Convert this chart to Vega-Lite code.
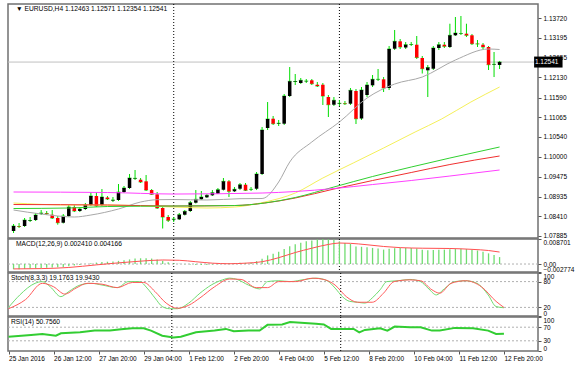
{
"$schema": "https://vega.github.io/schema/vega-lite/v6.json",
"background": "white",
"padding": {"left": 3, "top": 2, "right": 0, "bottom": 0},
"spacing": 1,
"bounds": "flush",
"resolve": {"scale": {"x": "independent", "y": "independent", "color": "independent"}},
"config": {
  "view": {"stroke": "#707070", "strokeWidth": 1.5},
  "axis": {"labelFont": "Liberation Sans", "labelFontSize": 6.5, "labelColor": "#000000", "tickColor": "#555555", "tickSize": 3, "domain": false, "grid": false, "title": null, "labelPadding": 2, "labelOverlap": false, "labelSeparation": 0, "tickCount": 50},
  "text": {"font": "Liberation Sans", "fontSize": 6.7, "color": "#000000"}
},
"datasets": {
  "seps": [{"i": 29}, {"i": 59}],
  "bars": [
{"i":0,"o":1.08018,"h":1.08206,"l":1.07965,"c":1.08152,"m":-0.0018},
{"i":1,"o":1.08152,"h":1.08232,"l":1.08098,"c":1.08139,"m":-0.0018},
{"i":2,"o":1.08152,"h":1.08366,"l":1.08125,"c":1.08312,"m":-0.0017},
{"i":3,"o":1.08286,"h":1.08393,"l":1.08259,"c":1.08299,"m":-0.0016},
{"i":4,"o":1.08312,"h":1.08500,"l":1.08286,"c":1.08446,"m":-0.0015},
{"i":5,"o":1.08486,"h":1.08580,"l":1.08446,"c":1.08500,"m":-0.0014},
{"i":6,"o":1.08500,"h":1.08553,"l":1.08446,"c":1.08486,"m":-0.0013},
{"i":7,"o":1.08454,"h":1.08580,"l":1.08339,"c":1.08366,"m":-0.0012},
{"i":8,"o":1.08366,"h":1.08419,"l":1.08187,"c":1.08240,"m":-0.0011},
{"i":9,"o":1.08240,"h":1.08473,"l":1.08219,"c":1.08419,"m":-0.0010},
{"i":10,"o":1.08419,"h":1.08714,"l":1.08393,"c":1.08660,"m":-0.0008},
{"i":11,"o":1.08660,"h":1.08714,"l":1.08526,"c":1.08553,"m":-0.0005},
{"i":12,"o":1.08553,"h":1.08660,"l":1.08526,"c":1.08607,"m":-0.0003},
{"i":13,"o":1.08607,"h":1.08768,"l":1.08580,"c":1.08714,"m":0.00005},
{"i":14,"o":1.08714,"h":1.09062,"l":1.08687,"c":1.08955,"m":0.0003},
{"i":15,"o":1.08955,"h":1.09062,"l":1.08660,"c":1.08687,"m":0.0005},
{"i":16,"o":1.08714,"h":1.09142,"l":1.08687,"c":1.08928,"m":0.0007},
{"i":17,"o":1.08915,"h":1.08955,"l":1.08848,"c":1.08875,"m":0.0008},
{"i":18,"o":1.08834,"h":1.08928,"l":1.08794,"c":1.08848,"m":0.0009},
{"i":19,"o":1.08848,"h":1.09276,"l":1.08821,"c":1.09062,"m":0.0011},
{"i":20,"o":1.09062,"h":1.09223,"l":1.09035,"c":1.09169,"m":0.0013},
{"i":21,"o":1.09169,"h":1.09544,"l":1.09142,"c":1.09437,"m":0.0016},
{"i":22,"o":1.09418,"h":1.09651,"l":1.09383,"c":1.09429,"m":0.0019},
{"i":23,"o":1.09391,"h":1.09437,"l":1.09303,"c":1.09330,"m":0.0020},
{"i":24,"o":1.09348,"h":1.09517,"l":1.09089,"c":1.09115,"m":0.0020},
{"i":25,"o":1.09115,"h":1.09142,"l":1.08982,"c":1.09000,"m":0.0019},
{"i":26,"o":1.09000,"h":1.09062,"l":1.08607,"c":1.08634,"m":0.0016},
{"i":27,"o":1.08634,"h":1.08660,"l":1.08085,"c":1.08393,"m":0.0011},
{"i":28,"o":1.08393,"h":1.08446,"l":1.08259,"c":1.08304,"m":0.0006},
{"i":29,"o":1.08326,"h":1.08393,"l":1.08259,"c":1.08339,"m":0.0003},
{"i":30,"o":1.08331,"h":1.08500,"l":1.08312,"c":1.08454,"m":0.0001},
{"i":31,"o":1.08454,"h":1.08580,"l":1.08433,"c":1.08545,"m":-0.0001},
{"i":32,"o":1.08553,"h":1.08821,"l":1.08526,"c":1.08776,"m":-0.0002},
{"i":33,"o":1.08776,"h":1.09115,"l":1.08754,"c":1.08867,"m":-0.0003},
{"i":34,"o":1.08867,"h":1.09089,"l":1.08848,"c":1.08928,"m":-0.0003},
{"i":35,"o":1.08920,"h":1.09008,"l":1.08901,"c":1.08974,"m":-0.0003},
{"i":36,"o":1.08974,"h":1.09115,"l":1.08955,"c":1.09043,"m":-0.0002},
{"i":37,"o":1.09016,"h":1.09169,"l":1.09008,"c":1.09123,"m":-0.0001},
{"i":38,"o":1.09123,"h":1.09437,"l":1.09102,"c":1.09348,"m":0.0002},
{"i":39,"o":1.09348,"h":1.09383,"l":1.08928,"c":1.09081,"m":0.0003},
{"i":40,"o":1.09081,"h":1.09196,"l":1.09062,"c":1.09134,"m":0.0003},
{"i":41,"o":1.09150,"h":1.09303,"l":1.09115,"c":1.09257,"m":0.0004},
{"i":42,"o":1.09257,"h":1.09303,"l":1.09089,"c":1.09107,"m":0.0004},
{"i":43,"o":1.09129,"h":1.09196,"l":1.09089,"c":1.09134,"m":0.0004},
{"i":44,"o":1.09150,"h":1.09597,"l":1.09115,"c":1.09544,"m":0.0010},
{"i":45,"o":1.09544,"h":1.10802,"l":1.09517,"c":1.10722,"m":0.0018},
{"i":46,"o":1.10775,"h":1.11471,"l":1.10722,"c":1.11016,"m":0.0030},
{"i":47,"o":1.11024,"h":1.11097,"l":1.10856,"c":1.10891,"m":0.0036},
{"i":48,"o":1.10891,"h":1.10990,"l":1.10829,"c":1.10904,"m":0.0043},
{"i":49,"o":1.10891,"h":1.11685,"l":1.10856,"c":1.11632,"m":0.0052},
{"i":50,"o":1.11632,"h":1.12408,"l":1.11605,"c":1.12026,"m":0.0062},
{"i":51,"o":1.12007,"h":1.12221,"l":1.11926,"c":1.12020,"m":0.0069},
{"i":52,"o":1.11980,"h":1.12114,"l":1.11953,"c":1.12052,"m":0.0074},
{"i":53,"o":1.12026,"h":1.12087,"l":1.11980,"c":1.12034,"m":0.0079},
{"i":54,"o":1.12052,"h":1.12087,"l":1.11926,"c":1.11961,"m":0.0082},
{"i":55,"o":1.11934,"h":1.12007,"l":1.11873,"c":1.11900,"m":0.0085},
{"i":56,"o":1.11934,"h":1.11980,"l":1.11391,"c":1.11632,"m":0.0087},
{"i":57,"o":1.11605,"h":1.11659,"l":1.11070,"c":1.11399,"m":0.0086},
{"i":58,"o":1.11399,"h":1.11605,"l":1.11364,"c":1.11517,"m":0.0084},
{"i":59,"o":1.11426,"h":1.11525,"l":1.11364,"c":1.11437,"m":0.0079},
{"i":60,"o":1.11437,"h":1.11498,"l":1.11391,"c":1.11426,"m":0.0073},
{"i":61,"o":1.11426,"h":1.11846,"l":1.11391,"c":1.11784,"m":0.0070},
{"i":62,"o":1.11766,"h":1.11819,"l":1.10882,"c":1.11024,"m":0.0061},
{"i":63,"o":1.11030,"h":1.11873,"l":1.10990,"c":1.11792,"m":0.0060},
{"i":64,"o":1.11659,"h":1.12007,"l":1.11605,"c":1.11926,"m":0.0058},
{"i":65,"o":1.11918,"h":1.12194,"l":1.11873,"c":1.12079,"m":0.0056},
{"i":66,"o":1.12074,"h":1.12355,"l":1.12034,"c":1.12079,"m":0.0054},
{"i":67,"o":1.12079,"h":1.12140,"l":1.11739,"c":1.11846,"m":0.0050},
{"i":68,"o":1.11846,"h":1.12970,"l":1.11792,"c":1.12890,"m":0.0053},
{"i":69,"o":1.12898,"h":1.13399,"l":1.12863,"c":1.13096,"m":0.0055},
{"i":70,"o":1.13096,"h":1.13158,"l":1.12890,"c":1.12944,"m":0.0056},
{"i":71,"o":1.12930,"h":1.13077,"l":1.12890,"c":1.13005,"m":0.0056},
{"i":72,"o":1.13005,"h":1.13077,"l":1.12970,"c":1.13011,"m":0.0056},
{"i":73,"o":1.13005,"h":1.13238,"l":1.12622,"c":1.12663,"m":0.0054},
{"i":74,"o":1.12649,"h":1.12703,"l":1.12234,"c":1.12363,"m":0.0050},
{"i":75,"o":1.12320,"h":1.12462,"l":1.11605,"c":1.12395,"m":0.0048},
{"i":76,"o":1.12363,"h":1.12970,"l":1.12328,"c":1.12917,"m":0.0049},
{"i":77,"o":1.12917,"h":1.13077,"l":1.12863,"c":1.13005,"m":0.0050},
{"i":78,"o":1.13005,"h":1.13077,"l":1.12917,"c":1.12962,"m":0.0050},
{"i":79,"o":1.12944,"h":1.13567,"l":1.12917,"c":1.13257,"m":0.0051},
{"i":80,"o":1.13257,"h":1.13747,"l":1.13238,"c":1.13318,"m":0.0052},
{"i":81,"o":1.13300,"h":1.13774,"l":1.13265,"c":1.13305,"m":0.0053},
{"i":82,"o":1.13300,"h":1.13567,"l":1.13211,"c":1.13257,"m":0.0052},
{"i":83,"o":1.13257,"h":1.13292,"l":1.12997,"c":1.13032,"m":0.0050},
{"i":84,"o":1.13032,"h":1.13131,"l":1.12944,"c":1.13024,"m":0.0047},
{"i":85,"o":1.13005,"h":1.13051,"l":1.12890,"c":1.12944,"m":0.0043},
{"i":86,"o":1.12944,"h":1.12970,"l":1.12328,"c":1.12470,"m":0.0037},
{"i":87,"o":1.12470,"h":1.12810,"l":1.12140,"c":1.12481,"m":0.0031},
{"i":88,"o":1.12463,"h":1.12571,"l":1.12354,"c":1.12541,"m":0.00241}
  ],
  "ma": [
{"s":"grey","i":0,"p":1.08580},{"s":"grey","i":5,"p":1.08473},{"s":"grey","i":11,"p":1.08393},{"s":"grey","i":14,"p":1.08446},{"s":"grey","i":19,"p":1.08607},{"s":"grey","i":23,"p":1.08794},{"s":"grey","i":26,"p":1.08856},{"s":"grey","i":29,"p":1.08861},{"s":"grey","i":35,"p":1.08848},{"s":"grey","i":41,"p":1.08883},{"s":"grey","i":45,"p":1.08888},{"s":"grey","i":48,"p":1.09330},{"s":"grey","i":50,"p":1.09865},{"s":"grey","i":54,"p":1.10401},{"s":"grey","i":59,"p":1.10936},{"s":"grey","i":64,"p":1.11578},{"s":"grey","i":69,"p":1.11953},{"s":"grey","i":74,"p":1.12140},{"s":"grey","i":80,"p":1.12596},{"s":"grey","i":86,"p":1.12890},{"s":"grey","i":88,"p":1.12877},
{"s":"yellow","i":0,"p":1.08768},{"s":"yellow","i":10,"p":1.08714},{"s":"yellow","i":17,"p":1.08714},{"s":"yellow","i":29,"p":1.08660},{"s":"yellow","i":35,"p":1.08634},{"s":"yellow","i":40,"p":1.08660},{"s":"yellow","i":45.5,"p":1.08794},{"s":"yellow","i":51,"p":1.09035},{"s":"yellow","i":56,"p":1.09437},{"s":"yellow","i":61.5,"p":1.09838},{"s":"yellow","i":67,"p":1.10240},{"s":"yellow","i":72.7,"p":1.10668},{"s":"yellow","i":77.5,"p":1.11016},{"s":"yellow","i":82.8,"p":1.11471},{"s":"yellow","i":88,"p":1.11873},
{"s":"red","i":0,"p":1.08727},{"s":"red","i":17,"p":1.08714},{"s":"red","i":29,"p":1.08687},{"s":"red","i":40,"p":1.08700},{"s":"red","i":45.5,"p":1.08768},{"s":"red","i":51,"p":1.08901},{"s":"red","i":58,"p":1.09142},{"s":"red","i":65,"p":1.09370},{"s":"red","i":72,"p":1.09584},{"s":"red","i":79,"p":1.09798},{"s":"red","i":88,"p":1.10026},
{"s":"green","i":0,"p":1.08620},{"s":"green","i":10,"p":1.08634},{"s":"green","i":17,"p":1.08674},{"s":"green","i":29,"p":1.08687},{"s":"green","i":40,"p":1.08700},{"s":"green","i":45.5,"p":1.08768},{"s":"green","i":51,"p":1.08915},{"s":"green","i":58,"p":1.09196},{"s":"green","i":65,"p":1.09477},{"s":"green","i":72,"p":1.09731},{"s":"green","i":79,"p":1.09972},{"s":"green","i":88,"p":1.10267},
{"s":"magenta","i":0,"p":1.09062},{"s":"magenta","i":17,"p":1.09049},{"s":"magenta","i":29,"p":1.09008},{"s":"magenta","i":45,"p":1.09035},{"s":"magenta","i":51,"p":1.09075},{"s":"magenta","i":58,"p":1.09155},{"s":"magenta","i":65,"p":1.09262},{"s":"magenta","i":72,"p":1.09370},{"s":"magenta","i":79,"p":1.09490},{"s":"magenta","i":88,"p":1.09651}
  ],
  "sig": [
{"i":0,"v":-0.0017},{"i":5,"v":-0.0016},{"i":10,"v":-0.0012},{"i":15,"v":-0.0003},{"i":19,"v":0.0004},{"i":23,"v":0.0010},{"i":27,"v":0.0014},{"i":30,"v":0.0013},{"i":33,"v":0.0008},{"i":36,"v":0.0003},{"i":39,"v":0.0001},{"i":42,"v":0.0003},{"i":45,"v":0.0008},{"i":48,"v":0.0022},{"i":51,"v":0.0040},{"i":54,"v":0.0055},{"i":57,"v":0.0068},{"i":59,"v":0.0073},{"i":61,"v":0.0072},{"i":64,"v":0.0067},{"i":67,"v":0.0061},{"i":70,"v":0.0057},{"i":74,"v":0.0055},{"i":79,"v":0.0054},{"i":83,"v":0.0051},{"i":86,"v":0.0047},{"i":88,"v":0.004166}
  ],
  "stoch": [
{"s":"K","i":0,"v":20},{"s":"K","i":2,"v":49},{"s":"K","i":4.7,"v":76},{"s":"K","i":6,"v":80},{"s":"K","i":7.4,"v":68},{"s":"K","i":9.3,"v":45},{"s":"K","i":10.7,"v":57},{"s":"K","i":12.7,"v":72},{"s":"K","i":14.7,"v":76},{"s":"K","i":16.6,"v":72},{"s":"K","i":19.3,"v":66},{"s":"K","i":21.3,"v":80},{"s":"K","i":23.3,"v":80},{"s":"K","i":24.6,"v":65},{"s":"K","i":26,"v":42},{"s":"K","i":27.3,"v":22},{"s":"K","i":28.6,"v":17},{"s":"K","i":30,"v":17},{"s":"K","i":32,"v":30},{"s":"K","i":34,"v":53},{"s":"K","i":36,"v":72},{"s":"K","i":38,"v":84},{"s":"K","i":39.3,"v":88},{"s":"K","i":40.6,"v":85},{"s":"K","i":42.6,"v":72},{"s":"K","i":44.6,"v":63},{"s":"K","i":46,"v":80},{"s":"K","i":48,"v":82},{"s":"K","i":50,"v":80},{"s":"K","i":52.6,"v":85},{"s":"K","i":54.6,"v":88},{"s":"K","i":56.6,"v":82},{"s":"K","i":58,"v":65},{"s":"K","i":59.3,"v":45},{"s":"K","i":60.6,"v":34},{"s":"K","i":62,"v":32},{"s":"K","i":63.3,"v":30},{"s":"K","i":64.6,"v":42},{"s":"K","i":66,"v":61},{"s":"K","i":67.2,"v":80},{"s":"K","i":69.2,"v":82},{"s":"K","i":71.3,"v":85},{"s":"K","i":73.2,"v":80},{"s":"K","i":74.5,"v":65},{"s":"K","i":76,"v":49},{"s":"K","i":77.2,"v":61},{"s":"K","i":79.3,"v":80},{"s":"K","i":81.2,"v":82},{"s":"K","i":83.2,"v":76},{"s":"K","i":85.2,"v":49},{"s":"K","i":86.6,"v":22},{"s":"K","i":88,"v":19.18},
{"s":"D","i":0,"v":17},{"s":"D","i":3,"v":38},{"s":"D","i":6,"v":76},{"s":"D","i":8,"v":68},{"s":"D","i":10,"v":51},{"s":"D","i":12,"v":65},{"s":"D","i":14,"v":76},{"s":"D","i":16.6,"v":74},{"s":"D","i":19.3,"v":66},{"s":"D","i":22,"v":78},{"s":"D","i":24,"v":78},{"s":"D","i":26,"v":57},{"s":"D","i":28,"v":30},{"s":"D","i":30,"v":18},{"s":"D","i":32,"v":25},{"s":"D","i":34,"v":42},{"s":"D","i":36.6,"v":68},{"s":"D","i":39.3,"v":86},{"s":"D","i":41.3,"v":85},{"s":"D","i":44,"v":66},{"s":"D","i":46,"v":66},{"s":"D","i":48,"v":80},{"s":"D","i":51,"v":80},{"s":"D","i":54,"v":88},{"s":"D","i":56,"v":85},{"s":"D","i":58,"v":72},{"s":"D","i":60,"v":45},{"s":"D","i":62,"v":32},{"s":"D","i":64.6,"v":32},{"s":"D","i":66.6,"v":53},{"s":"D","i":68.5,"v":80},{"s":"D","i":71.3,"v":84},{"s":"D","i":73.2,"v":82},{"s":"D","i":75.2,"v":61},{"s":"D","i":76.6,"v":53},{"s":"D","i":78.6,"v":76},{"s":"D","i":81.2,"v":82},{"s":"D","i":84,"v":68},{"s":"D","i":86.6,"v":34},{"s":"D","i":88,"v":19.94}
  ],
  "rsi": [
{"i":0,"v":42},{"i":4,"v":47},{"i":6,"v":50},{"i":8.4,"v":45},{"i":9.3,"v":52},{"i":12.7,"v":55},{"i":15.3,"v":60},{"i":18,"v":60},{"i":20,"v":64},{"i":22,"v":67},{"i":24,"v":67},{"i":25.3,"v":60},{"i":27.3,"v":45},{"i":29.3,"v":40},{"i":30.6,"v":42},{"i":33.3,"v":55},{"i":36.6,"v":60},{"i":38.6,"v":65},{"i":40,"v":58},{"i":42.6,"v":60},{"i":44.6,"v":60},{"i":46,"v":77},{"i":48.6,"v":78},{"i":50,"v":85},{"i":52.6,"v":82},{"i":54.6,"v":80},{"i":56,"v":78},{"i":57.3,"v":65},{"i":59.3,"v":65},{"i":61.3,"v":65},{"i":62.3,"v":55},{"i":63.3,"v":62},{"i":66,"v":67},{"i":67.3,"v":60},{"i":68.6,"v":72},{"i":71.3,"v":70},{"i":73.2,"v":70},{"i":75.2,"v":60},{"i":76.6,"v":60},{"i":79.3,"v":68},{"i":82.5,"v":67},{"i":85.2,"v":60},{"i":86.6,"v":50},{"i":88,"v":50.76}
  ]
},
"vconcat": [
{
  "width": 530, "height": 234,
  "layer": [
    {"data": {"values": [{"p": 1.12541}]}, "mark": {"type": "rule", "color": "#c0c0c0", "strokeWidth": 1},
     "encoding": {"y": {"field": "p", "type": "quantitative", "scale": {"domain": [1.07831, 1.14095], "nice": false, "zero": false},
       "axis": {"orient": "right", "values": [1.1372, 1.13195, 1.12655, 1.1213, 1.1159, 1.11065, 1.1054, 1.1, 1.09475, 1.08935, 1.0841, 1.07885], "format": ".5f", "labelFlush": false, "labelOverlap": false, "tickCount": 50}}}},
    {"data": {"name": "seps"}, "mark": {"type": "rule", "color": "#000000", "strokeDash": [1, 2], "strokeWidth": 1},
     "encoding": {"x": {"field": "i", "type": "quantitative", "scale": {"domain": [-0.1, 94.05], "nice": false, "zero": false}, "axis": null}}},
    {"data": {"name": "bars"}, "mark": {"type": "rule", "color": "#00dd00", "strokeWidth": 1},
     "encoding": {"x": {"field": "i", "type": "quantitative"}, "y": {"field": "l", "type": "quantitative"}, "y2": {"field": "h"}}},
    {"data": {"name": "bars"}, "mark": {"type": "tick", "orient": "horizontal", "color": "#00dd00", "size": 4, "thickness": 1},
     "encoding": {"x": {"field": "i", "type": "quantitative"}, "y": {"field": "c", "type": "quantitative"}}},
    {"data": {"name": "bars"}, "mark": {"type": "bar", "size": 3.5},
     "encoding": {"x": {"field": "i", "type": "quantitative"}, "y": {"field": "o", "type": "quantitative"}, "y2": {"field": "c"},
       "color": {"condition": {"test": "datum.c >= datum.o", "value": "#000000"}, "value": "#ff0000"}}},
    {"data": {"name": "ma"}, "mark": {"type": "line", "strokeWidth": 1, "interpolate": "monotone"},
     "encoding": {"x": {"field": "i", "type": "quantitative"}, "y": {"field": "p", "type": "quantitative"},
       "color": {"field": "s", "type": "nominal", "legend": null, "scale": {"domain": ["grey", "yellow", "red", "green", "magenta"], "range": ["#a8a8a8", "#f5f05a", "#f03030", "#30d030", "#ff40ff"]}}}},
    {"data": {"values": [{"t": "▼ EURUSD,H4  1.12463 1.12571 1.12354 1.12541"}]}, "mark": {"type": "text", "align": "left", "baseline": "top", "dx": 3, "dy": 2},
     "encoding": {"x": {"datum": -0.1}, "y": {"datum": 1.14095}, "text": {"field": "t"}}},
    {"data": {"values": [{"a": 94.25, "b": 99.4, "y1": 1.12394, "y2": 1.12688}]}, "mark": {"type": "rect", "color": "#000000"},
     "encoding": {"x": {"field": "a", "type": "quantitative"}, "x2": {"field": "b"}, "y": {"field": "y1", "type": "quantitative"}, "y2": {"field": "y2"}}},
    {"data": {"values": [{"a": 94.4, "p": 1.12541, "t": "1.12541"}]}, "mark": {"type": "text", "align": "left", "baseline": "middle", "color": "#ffffff", "fontSize": 6.5},
     "encoding": {"x": {"field": "a", "type": "quantitative"}, "y": {"field": "p", "type": "quantitative"}, "text": {"field": "t"}}}
  ]
},
{
  "width": 530, "height": 33,
  "layer": [
    {"data": {"values": [{"v": 0}]}, "mark": {"type": "rule", "color": "#b0b0b0", "strokeDash": [2, 2], "strokeWidth": 1},
     "encoding": {"y": {"field": "v", "type": "quantitative", "scale": {"domain": [-0.002774, 0.008701], "nice": false, "zero": false},
       "axis": {"orient": "right", "values": [0.008701, 0, -0.002774], "labelExpr": "datum.value == 0 ? '0.00' : format(datum.value, '.6f')", "labelFlush": true, "labelOverlap": false, "tickCount": 50}}}},
    {"data": {"name": "seps"}, "mark": {"type": "rule", "color": "#000000", "strokeDash": [1, 2], "strokeWidth": 1},
     "encoding": {"x": {"field": "i", "type": "quantitative", "scale": {"domain": [-0.1, 94.05], "nice": false, "zero": false}, "axis": null}}},
    {"data": {"name": "bars"}, "mark": {"type": "bar", "size": 1.3, "color": "#70dc70"},
     "encoding": {"x": {"field": "i", "type": "quantitative"}, "y": {"field": "m", "type": "quantitative"}, "y2": {"datum": 0}}},
    {"data": {"name": "sig"}, "mark": {"type": "line", "color": "#ff5050", "strokeWidth": 1, "interpolate": "monotone"},
     "encoding": {"x": {"field": "i", "type": "quantitative"}, "y": {"field": "v", "type": "quantitative"}}},
    {"data": {"values": [{"t": "MACD(12,26,9) 0.002410 0.004166"}]}, "mark": {"type": "text", "align": "left", "baseline": "top", "dx": 3, "dy": 2},
     "encoding": {"x": {"datum": -0.1}, "y": {"datum": 0.008701}, "text": {"field": "t"}}}
  ]
},
{
  "width": 530, "height": 43,
  "layer": [
    {"data": {"values": [{"v": 80}, {"v": 20}]}, "mark": {"type": "rule", "color": "#b0b0b0", "strokeDash": [2, 2], "strokeWidth": 1},
     "encoding": {"y": {"field": "v", "type": "quantitative", "scale": {"domain": [0, 100], "nice": false},
       "axis": {"orient": "right", "values": [100, 80, 20, 0], "labelFlush": true, "labelOverlap": false, "tickCount": 50}}}},
    {"data": {"name": "seps"}, "mark": {"type": "rule", "color": "#000000", "strokeDash": [1, 2], "strokeWidth": 1},
     "encoding": {"x": {"field": "i", "type": "quantitative", "scale": {"domain": [-0.1, 94.05], "nice": false, "zero": false}, "axis": null}}},
    {"data": {"name": "stoch"}, "mark": {"type": "line", "strokeWidth": 1, "interpolate": "monotone"},
     "encoding": {"x": {"field": "i", "type": "quantitative"}, "y": {"field": "v", "type": "quantitative"},
       "color": {"field": "s", "type": "nominal", "legend": null, "scale": {"domain": ["K", "D"], "range": ["#70dc70", "#ff5a5a"]}}}},
    {"data": {"values": [{"t": "Stoch(8,3,3) 19.1763 19.9430"}]}, "mark": {"type": "text", "align": "left", "baseline": "top", "dx": 3, "dy": 2},
     "encoding": {"x": {"datum": -0.1}, "y": {"datum": 100}, "text": {"field": "t"}}}
  ]
},
{
  "width": 530, "height": 34,
  "layer": [
    {"data": {"values": [{"v": 70}, {"v": 30}]}, "mark": {"type": "rule", "color": "#b0b0b0", "strokeDash": [2, 2], "strokeWidth": 1},
     "encoding": {"y": {"field": "v", "type": "quantitative", "scale": {"domain": [0, 100], "nice": false},
       "axis": {"orient": "right", "values": [100, 70, 30, 0], "labelFlush": true, "labelOverlap": false, "tickCount": 50}}}},
    {"data": {"name": "seps"}, "mark": {"type": "rule", "color": "#000000", "strokeDash": [1, 2], "strokeWidth": 1},
     "encoding": {"x": {"field": "i", "type": "quantitative", "scale": {"domain": [-0.1, 94.05], "nice": false, "zero": false},
       "axis": {"orient": "bottom", "values": [0, 8, 16, 24, 32, 40, 48, 56, 64, 72, 80, 88], "labelAlign": "left", "labelOverlap": false, "labelBound": false, "labelFlush": false, "labelPadding": 1, "tickCount": 50,
         "labelExpr": "['25 Jan 2016','26 Jan 12:00','27 Jan 20:00','29 Jan 04:00','1 Feb 12:00','2 Feb 20:00','4 Feb 04:00','5 Feb 12:00','8 Feb 20:00','10 Feb 04:00','11 Feb 12:00','12 Feb 20:00'][round(datum.value / 8)]"}}}},
    {"data": {"name": "rsi"}, "mark": {"type": "line", "color": "#32cd32", "strokeWidth": 2},
     "encoding": {"x": {"field": "i", "type": "quantitative"}, "y": {"field": "v", "type": "quantitative"}}},
    {"data": {"values": [{"t": "RSI(14) 50.7560"}]}, "mark": {"type": "text", "align": "left", "baseline": "top", "dx": 3, "dy": 2},
     "encoding": {"x": {"datum": -0.1}, "y": {"datum": 100}, "text": {"field": "t"}}}
  ]
}
]
}
